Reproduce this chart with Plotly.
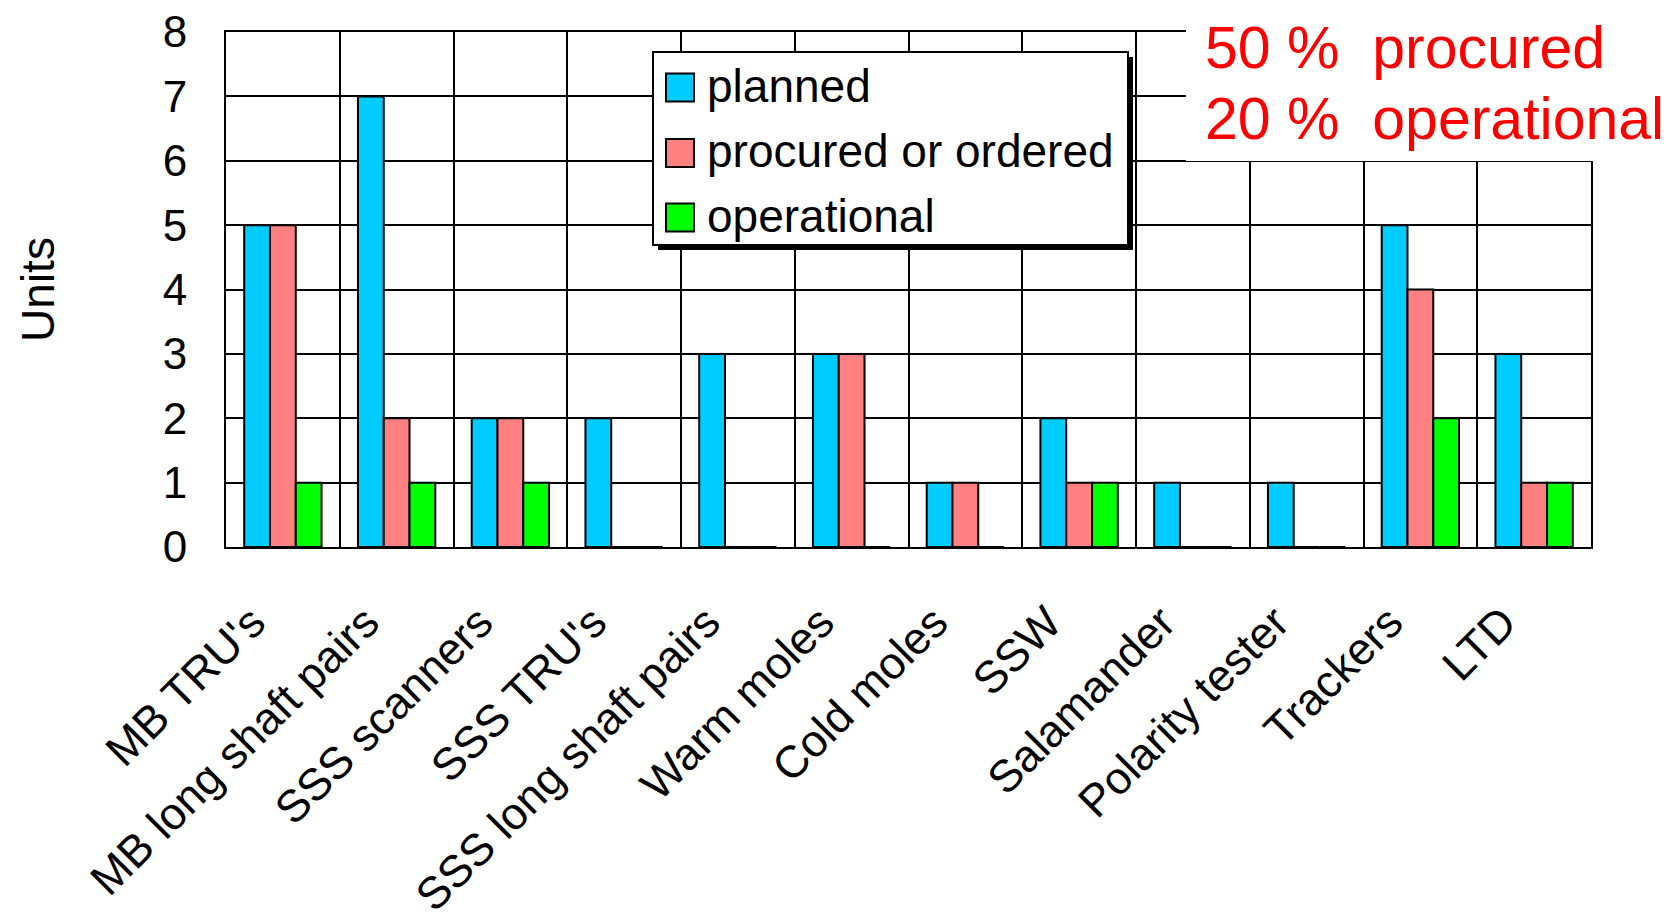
import plotly.graph_objects as go

# --- data -------------------------------------------------------------
categories = [
    "MB TRU's", "MB long shaft pairs", "SSS scanners", "SSS TRU's",
    "SSS long shaft pairs", "Warm moles", "Cold moles", "SSW",
    "Salamander", "Polarity tester", "Trackers", "LTD",
]
planned = [5, 7, 2, 2, 3, 3, 1, 2, 1, 1, 5, 3]
procured = [5, 2, 2, 0, 0, 3, 1, 1, 0, 0, 4, 1]
operational = [1, 1, 1, 0, 0, 0, 0, 1, 0, 0, 2, 1]

series_names = ["planned", "procured or ordered", "operational"]
series_values = [planned, procured, operational]
series_colors = ["#00CCFF", "#FF8080", "#00FF00"]

y_ticks = [0, 1, 2, 3, 4, 5, 6, 7, 8]
summary_lines = ["50 %\u00a0 procured", "20 %\u00a0 operational"]

# --- geometry (pixels) -------------------------------------------------
W, H = 1675, 921
L, R, T, B = 226, 84, 32, 374
PW, PH = W - L - R, H - T - B
FONT = "Liberation Sans, Arial, sans-serif"


def px(x):
    return (x - L) / PW


def py(y):
    return (H - B - y) / PH


fig = go.Figure()
for name, vals, col in zip(series_names, series_values, series_colors):
    fig.add_trace(go.Bar(
        x=categories, y=vals, name=name,
        marker=dict(color=col, line=dict(color="black", width=2)),
        showlegend=False,
    ))

shapes = []
annotations = []

# hand-built legend box with drop shadow
box_x0, box_x1, box_y0, box_y1 = 653, 1128, 52, 245
shapes.append(dict(type="rect", xref="paper", yref="paper", layer="above",
                   x0=px(box_x0 + 5), x1=px(box_x1 + 5),
                   y0=py(box_y1 + 5), y1=py(box_y0 + 5),
                   fillcolor="black", line=dict(width=0)))
shapes.append(dict(type="rect", xref="paper", yref="paper", layer="above",
                   x0=px(box_x0), x1=px(box_x1), y0=py(box_y1), y1=py(box_y0),
                   fillcolor="white", line=dict(color="black", width=2)))
row_centers = [87.5, 153, 217.5]
for name, col, yc in zip(series_names, series_colors, row_centers):
    shapes.append(dict(type="rect", xref="paper", yref="paper", layer="above",
                       x0=px(666), x1=px(694), y0=py(yc + 14), y1=py(yc - 14),
                       fillcolor=col, line=dict(color="black", width=2)))
    annotations.append(dict(text=name, xref="paper", yref="paper",
                            x=px(705), y=py(yc - 2), xanchor="left", yanchor="middle",
                            showarrow=False, font=dict(family=FONT, size=46, color="black")))

# white panel behind the summary text
shapes.append(dict(type="rect", xref="paper", yref="paper", layer="above",
                   x0=px(1186), x1=px(W + 10), y0=py(161), y1=py(-10),
                   fillcolor="white", line=dict(width=0)))
for line, yc in zip(summary_lines, [48, 119]):
    annotations.append(dict(text=line, xref="paper", yref="paper",
                            x=px(1203), y=py(yc), xanchor="left", yanchor="middle",
                            showarrow=False, font=dict(family=FONT, size=59, color="red")))

fig.update_layout(
    width=W, height=H,
    margin=dict(l=L, r=R, t=T, b=B, autoexpand=False),
    paper_bgcolor="white", plot_bgcolor="white",
    barmode="group", bargap=0.32, bargroupgap=0,
    font=dict(family=FONT, size=44, color="black"),
    shapes=shapes, annotations=annotations,
    showlegend=False,
)
fig.update_xaxes(
    type="category", tickson="boundaries", showgrid=True,
    gridcolor="black", gridwidth=2,
    showline=True, linecolor="black", linewidth=2, mirror=True,
    ticks="", tickangle=-45, tickfont=dict(size=45),
    ticklabelstandoff=29, ticklabelshift=-31, automargin=False,
)
fig.update_yaxes(
    range=[0, 8], tickvals=y_ticks, showgrid=True,
    gridcolor="black", gridwidth=2, zeroline=False,
    showline=True, linecolor="black", linewidth=2, mirror=True,
    ticks="", tickfont=dict(size=44), ticklabelstandoff=28,
    title=dict(text="Units", font=dict(size=46), standoff=94),
    automargin=False,
)

fig.write_html("out.html")
